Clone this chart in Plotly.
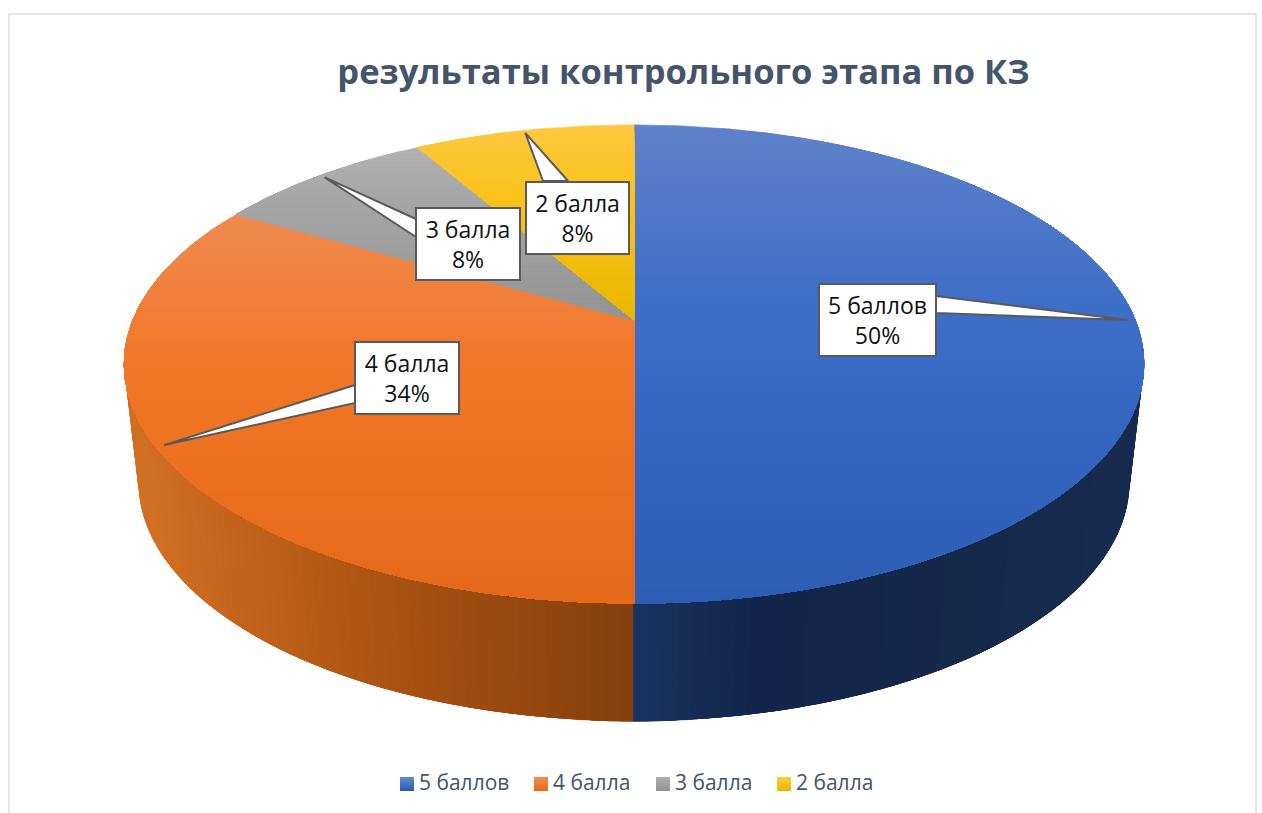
import numpy as np
import plotly.graph_objects as go

# ---- data ----
categories = ["5 баллов", "4 балла", "3 балла", "2 балла"]
counts = [6, 4, 1, 1]
percent_labels = ["50%", "34%", "8%", "8%"]
chart_title = "результаты контрольного этапа по КЗ"

# ---- styles ----
TEXT = "#44546a"
FONT = "Open Sans"
top_stops = [
    ([125, 200, 300, 400, 603], ["#6082ca", "#5279c9", "#3f6fc7", "#3668c3", "#2e5db3"]),
    ([213, 300, 360, 450, 603], ["#f08a50", "#f17f3a", "#f17828", "#ee7222", "#e4691b"]),
    ([148, 200, 320], ["#b2b2b2", "#a6a6a6", "#949494"]),
    ([125, 200, 320], ["#fdc840", "#fcc21a", "#e8b700"]),
]
side_stops = [
    ([634, 800, 1000, 1145], ["#1a386b", "#13254a", "#152949", "#172b50"]),
    ([135, 200, 350, 500, 634], ["#d16f22", "#c5651c", "#a95212", "#92460d", "#7f3c0b"]),
]
# projection of the pie's unit circle onto the page
CX, K, A = 634.0, 0.184, 231.0
TOP_Y0, TOP_B = 320.0, 501.0
BOT_Y0, BOT_B = 438.0, 487.0
# callout boxes (centre x, centre y, width, height), pointer base, tip radius
boxes = [(877, 320, 117, 73), (407, 378, 104, 73), (468, 244, 104, 73), (577.5, 218, 103, 73)]
bases = [((936, 296), (936, 313)), ((355, 385), (355, 403)), ((416, 219), (416, 237)), ((543, 181), (568, 181))]
TIP_R = 0.985
legend_x = [407, 541, 663, 784]
LEGEND_Y = 784


def hex_rgb(h):
    return np.array([int(h[i:i + 2], 16) for i in (1, 3, 5)], float)


def ramp(t, stops):
    pos, cols = stops
    rgb = np.array([hex_rgb(c) for c in cols])
    vals = [np.interp(t, pos, rgb[:, i]) for i in range(3)]
    return "rgb(%d,%d,%d)" % tuple(round(v) for v in vals)


def project(theta, r=1.0, y0=TOP_Y0, b=TOP_B):
    """theta in radians, clockwise from 12 o'clock."""
    u, v = r * np.sin(theta), r * np.cos(theta)
    w = 1 + K * v
    return CX + b * u / w, y0 - A * v / w


def clip_below(xs, ys, yb):
    out = []
    n = len(xs)
    for i in range(n):
        x1, y1, x2, y2 = xs[i], ys[i], xs[(i + 1) % n], ys[(i + 1) % n]
        if y1 >= yb:
            out.append((x1, y1))
        if (y1 >= yb) != (y2 >= yb):
            t = (yb - y1) / (y2 - y1)
            out.append((x1 + t * (x2 - x1), yb))
    if not out:
        return [], []
    a = np.array(out)
    return a[:, 0], a[:, 1]


fig = go.Figure()


def poly(xs, ys, color, name=None, lw=0.7):
    xs, ys = list(xs), list(ys)
    fig.add_trace(go.Scatter(
        x=xs + xs[:1], y=ys + ys[:1], mode="lines", fill="toself", fillcolor=color,
        line=dict(color=color, width=lw), hoverinfo="skip", showlegend=False, name=name or ""))


total = sum(counts)
edges = np.concatenate([[0], np.cumsum(counts)]) / total * 2 * np.pi

# side wall (only the front half shows); each strip overlaps those before it,
# walking outward from the seam between the two visible slices
for idx, far in [(1, np.radians(290)), (0, np.radians(70))]:
    n = 80
    th = np.linspace(edges[1], far, n + 1)
    for i in range(n):
        sub = np.linspace(th[max(i - 3, 0)], th[i + 1], 8)
        x1, y1 = project(sub)
        x2, y2 = project(sub[::-1], y0=BOT_Y0, b=BOT_B)
        mx = float(np.mean(project(th[i:i + 2])[0]))
        poly(np.concatenate([x1, x2]), np.concatenate([y1, y2]), ramp(mx, side_stops[idx]),
             lw=0.6 if i < 4 else 0)

# top face, painted as shrinking regions so that bands leave no seams
for s in range(len(counts)):
    th = np.linspace(edges[s], edges[s + 1], max(int(np.degrees(edges[s + 1] - edges[s]) * 2), 8))
    ex, ey = project(th)
    px = np.concatenate([[CX], ex])
    py = np.concatenate([[TOP_Y0], ey])
    y = py.min()
    first = True
    while y < py.max():
        cx, cy = clip_below(px, py, y)
        if len(cx) >= 3:
            poly(cx, cy, ramp(y + 2, top_stops[s]), name=categories[s] if first else None, lw=0.6)
            first = False
        y += 4

# callout pointers: the tip sits at the mid-angle of each slice
for s in range(len(counts)):
    mid = (edges[s] + edges[s + 1]) / 2
    tx, ty = project(mid, r=TIP_R)
    (bx1, by1), (bx2, by2) = bases[s]
    fig.add_trace(go.Scatter(
        x=[bx1, float(tx), bx2, bx1], y=[by1, float(ty), by2, by1], mode="lines", fill="toself",
        fillcolor="white", line=dict(color="#5a5a5a", width=2), hoverinfo="skip", showlegend=False))

# legend row: swatches, then their labels
fig.add_trace(go.Scatter(
    x=legend_x, y=[LEGEND_Y] * 4, mode="markers", hoverinfo="skip", showlegend=False,
    marker=dict(symbol="square", size=14, color=["#5f8ad6", "#f58c4f", "#b0b0b0", "#ffcb3a"],
                gradient=dict(type="vertical", color=["#2a5bb0", "#e46a18", "#929292", "#e8b700"]))))
fig.add_trace(go.Scatter(
    x=[v + 12 for v in legend_x], y=[LEGEND_Y + 1] * 4, mode="text", text=categories, textposition="middle right",
    textfont=dict(family=FONT, size=21, color=TEXT), hoverinfo="skip", showlegend=False))

annotations = []
for s, (bx, by, bw, bh) in enumerate(boxes):
    annotations.append(dict(
        x=bx, y=by, xref="x", yref="y", showarrow=False, xanchor="center", yanchor="middle",
        text=f"{categories[s]}<br>{percent_labels[s]}", width=bw - 2, height=bh - 3, align="center", valign="middle",
        bgcolor="white", bordercolor="#5a5a5a", borderwidth=2, borderpad=0,
        font=dict(family=FONT, size=23, color="#111111")))

fig.update_layout(
    width=1262, height=813, margin=dict(l=0, r=0, t=0, b=0),
    paper_bgcolor="white", plot_bgcolor="white", showlegend=False,
    title=dict(text=f"<b>{chart_title}</b>", x=0.5416, xanchor="center", y=1 - 72 / 813, yanchor="middle",
               font=dict(family=FONT, size=34.5, color=TEXT)),
    xaxis=dict(range=[0, 1262], visible=False, fixedrange=True),
    yaxis=dict(range=[813, 0], visible=False, fixedrange=True),
    shapes=[dict(type="rect", xref="x", yref="y", x0=9, x1=1256, y0=14, y1=830,
                 line=dict(color="#e2e6ec", width=2), layer="below")],
    annotations=annotations,
)
fig.write_html("out.html", config={"displayModeBar": False}, post_script="document.body.style.margin='0';")
